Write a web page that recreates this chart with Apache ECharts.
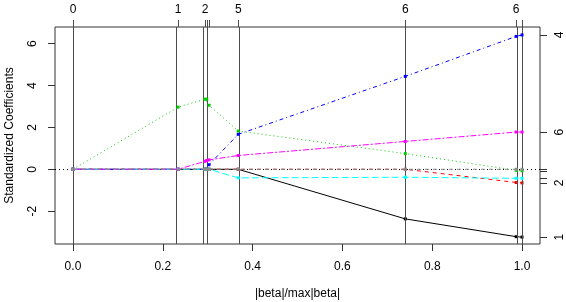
<!DOCTYPE html>
<html>
<head>
<meta charset="utf-8">
<script src="https://cdn.jsdelivr.net/npm/echarts@6/dist/echarts.min.js"></script>
<style>
  html, body { margin: 0; padding: 0; background: #fff; }
  #chart { width: 566px; height: 302px; }
</style>
</head>
<body>
<div id="chart"></div>
<script>
// lars steps (|beta|/max|beta|) and labels shown on top
const stepX = [0, 0.234, 0.294, 0.298, 0.303, 0.368, 0.740, 0.987, 1.0];
const stepLabels = ["0", "1", "2", "", "", "5", "6", "6", ""];

// standardized coefficients per variable at each step
const coef1 = [0, 0, 0, 0, 0, 0, -2.37, -3.22, -3.24];
const coef2 = [0, 0, 0, 0, 0, 0, 0, -0.63, -0.65];
const coef3 = [0, 2.97, 3.35, 3.35, 3.06, 1.83, 0.75, -0.05, -0.07];
const coef4 = [0, 0, 0, 0, 0.22, 1.67, 4.44, 6.35, 6.42];
const coef5 = [0, 0, 0, 0, 0, -0.41, -0.38, -0.43, -0.43];
const coef6 = [0, 0, 0.38, 0.42, 0.45, 0.66, 1.33, 1.78, 1.78];
const coef7 = [0, 0, 0, 0, 0, 0, 0, 0, 0];

// variable numbers on the right axis ("" = hidden because of overlap)
const varLabels = ["1", "2", "", "4", "", "6", ""];

const leftTicks = [-2, 0, 2, 4, 6];
const bottomTicks = [0, 0.2, 0.4, 0.6, 0.8, 1.0];

const allCoef = [coef1, coef2, coef3, coef4, coef5, coef6, coef7];
const colors = ["#000000", "#ff0000", "#00cd00", "#0000ff", "#00ffff", "#ff00ff", "#8c8c8c"];
const dashes = ["solid", [4, 4], [1, 3], [1, 3, 4, 3], [7, 3], [2, 2, 6, 2], [4, 4]];

const font = "'Liberation Sans', Arial, sans-serif";
const finals = allCoef.map(c => c[c.length - 1]);

let mychart = echarts.init(document.getElementById("chart"));

const series = allCoef.map((c, k) => ({
  name: "V" + (k + 1),
  type: "line",
  data: stepX.map((x, i) => [x, c[i]]),
  symbol: "rect",
  symbolSize: 3,
  showSymbol: true,
  itemStyle: { color: colors[k] },
  lineStyle: { color: colors[k], width: 1, type: dashes[k] },
  z: 3 + k
}));

// vertical step lines and dotted zero line
series.push({
  type: "line",
  data: [],
  silent: true,
  z: 20,
  markLine: {
    symbol: "none",
    silent: true,
    animation: false,
    label: { show: false },
    data: stepX.map(x => ({ xAxis: x, lineStyle: { color: "#4d4d4d", width: 1, type: "solid" } }))
      .concat([{ yAxis: 0, lineStyle: { color: "#000", width: 1, type: [1, 3] } }])
  }
});

const labelStyle = { color: "#000", fontSize: 12, fontFamily: font };

mychart.setOption({
  animation: false,
  grid: {
    left: 55,
    right: 26,
    top: 27,
    bottom: 58,
    outerBoundsMode: "none",
    containLabel: false,
    show: true,
    borderColor: "#333",
    borderWidth: 1,
    backgroundColor: "transparent"
  },
  xAxis: [
    {
      type: "value",
      min: -0.04,
      max: 1.04,
      name: "|beta|/max|beta|",
      nameLocation: "middle",
      nameGap: 44,
      nameTextStyle: labelStyle,
      axisLine: { show: false, onZero: false },
      splitLine: { show: false },
      axisTick: { show: true, length: 7, customValues: bottomTicks, lineStyle: { color: "#333" } },
      axisLabel: Object.assign({ margin: 17, customValues: bottomTicks, formatter: v => v.toFixed(1) }, labelStyle)
    },
    {
      type: "value",
      position: "top",
      min: -0.04,
      max: 1.04,
      axisLine: { show: false, onZero: false },
      splitLine: { show: false },
      axisTick: { show: true, length: 7, customValues: stepX, lineStyle: { color: "#4d4d4d" } },
      axisLabel: Object.assign({
        margin: 11,
        customValues: stepX.filter((x, i) => stepLabels[i] !== ""),
        formatter: v => stepLabels[stepX.indexOf(v)]
      }, labelStyle)
    }
  ],
  yAxis: [
    {
      type: "value",
      min: -3.57,
      max: 6.8,
      name: "Standardized Coefficients",
      nameLocation: "middle",
      nameGap: 39,
      nameRotate: 90,
      nameTextStyle: labelStyle,
      axisLine: { show: false, onZero: false },
      splitLine: { show: false },
      axisTick: { show: true, length: 7, customValues: leftTicks, lineStyle: { color: "#333" } },
      axisLabel: Object.assign({ margin: 16, rotate: 90, customValues: leftTicks }, labelStyle)
    },
    {
      type: "value",
      position: "right",
      min: -3.57,
      max: 6.8,
      axisLine: { show: false, onZero: false },
      splitLine: { show: false },
      axisTick: { show: true, length: 7, customValues: finals, lineStyle: { color: "#333" } },
      axisLabel: Object.assign({
        margin: 14,
        rotate: 90,
        customValues: finals.filter((v, i) => varLabels[i] !== ""),
        formatter: v => varLabels[finals.indexOf(v)]
      }, labelStyle)
    }
  ],
  series: series
});
</script>
</body>
</html>
